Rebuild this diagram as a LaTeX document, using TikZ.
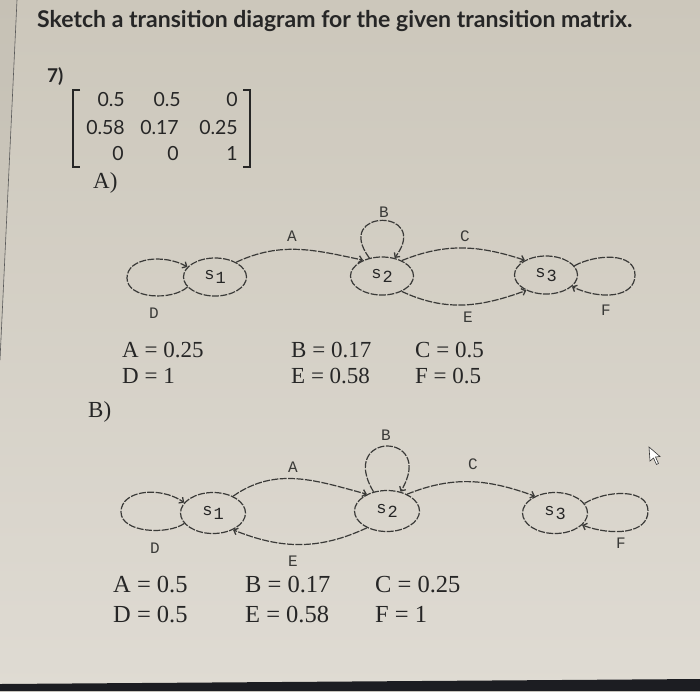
\documentclass[tikz,border=0pt]{standalone}
\usepackage{fontspec}
\usepackage{graphicx}
\setmainfont{Liberation Serif}
\setmonofont{Liberation Mono}
\newfontfamily\latof{Lato}
\usetikzlibrary{shapes.geometric,arrows.meta}
\definecolor{bgtop}{HTML}{CCC7BB}
\definecolor{bgbot}{HTML}{DFDBD3}
\definecolor{lnc}{HTML}{3A3A38}
\definecolor{txc}{HTML}{262626}
\definecolor{barc}{HTML}{1C1D22}
\begin{document}
\begin{tikzpicture}[x=1pt,y=1pt,
  ln/.style={draw=lnc,line width=1.2pt,dash pattern=on 7pt off 1.4pt},
  arr/.style={ln,-{Straight Barb[length=3.5pt,width=7pt,line width=1.3pt]}},
  st/.style={ellipse,ln,minimum width=63pt,minimum height=38pt,inner sep=0pt,
    font=\ttfamily\fontsize{17}{17}\selectfont,text=txc},
  stb/.style={st,minimum width=65pt,minimum height=41pt},
  lb/.style={font=\ttfamily\fontsize{16}{16}\selectfont,text=lnc,inner sep=0pt},
  eqa/.style={anchor=base west,inner sep=0pt,font=\fontsize{23}{23}\selectfont,text=txc},
  eqb/.style={eqa,font=\fontsize{24.5}{24.5}\selectfont},
  mx/.style={anchor=base east,inner sep=0pt,font=\latof\fontsize{19.5}{19.5}\selectfont,text=txc},
  brk/.style={draw=txc,line width=1.4pt},
  part/.style={anchor=base west,inner sep=0pt,font=\fontsize{23}{23}\selectfont,text=txc}]
\useasboundingbox (0,0) rectangle (700,-691);
% background
\shade[top color=bgtop,bottom color=bgbot] (0,0) rectangle (700,-691);
\fill[bgtop!92!black,opacity=0.35] (0,0) -- (17,0) -- (0,-360) -- cycle;
\draw[gray!70!black,line width=0.6pt] (17,0) -- (0,-360);
\fill[barc] (0,-684) -- (700,-679) -- (700,-691) -- (0,-691) -- cycle;

% title
\node[anchor=base west,inner sep=0pt,text=txc] (title) at (37,-27)
  {\resizebox{595pt}{!}{\latof\bfseries Sketch a transition diagram for the given transition matrix.}};
\node[anchor=base west,inner sep=0pt,text=txc,font=\latof\bfseries\fontsize{19}{19}\selectfont] (num) at (47,-82) {7)};

% matrix
\draw[brk] (80,-90) -- (73,-90) -- (73,-167) -- (80,-167);
\draw[brk] (243,-90) -- (250,-90) -- (250,-167) -- (243,-167);
\node[mx] (m11) at (125,-106) {0.5};
\node[mx] (m12) at (181,-106) {0.5};
\node[mx] (m13) at (238,-106) {0};
\node[mx] (m21) at (125,-134) {0.58};
\node[mx] (m22) at (179,-134) {0.17};
\node[mx] (m23) at (238,-134) {0.25};
\node[mx] (m31) at (124,-160) {0};
\node[mx] (m32) at (179,-160) {0};
\node[mx] (m33) at (238,-160) {1};
\node[part] (pa) at (93,-188) {A)};

% ---------- diagram A ----------
\node[st] (a1) at (215,-277) {s\kern1pt\raisebox{-3.5pt}{1}};
\node[st] (a2) at (382,-276) {s\kern1pt\raisebox{-3.5pt}{2}};
\node[st] (a3) at (546,-275) {s\kern1pt\raisebox{-3.5pt}{3}};
\coordinate (aDw) at (127,-278);
\coordinate (aFe) at (635,-275);
\draw[arr] (a1.200) .. controls (172,-301) and (127,-299) .. (aDw)
           .. controls (127,-257) and (165,-254) .. (a1.160);
\draw[arr] (a1.35) to[out=25,in=168] (a2.140);
\draw[arr] (a2.125) .. controls (332,-208) and (432,-208) .. (a2.55);
\draw[arr] (a2.38) to[out=22,in=162] (a3.145);
\draw[arr] (a2.-38) to[out=-25,in=-160] (a3.-142);
\draw[arr] (a3.18) .. controls (596,-254) and (635,-252) .. (aFe)
           .. controls (635,-298) and (600,-300) .. (a3.-24);
\node[lb] (lA) at (292,-236) {A};
\node[lb] (lB) at (384,-212) {B};
\node[lb] (lC) at (465,-236) {C};
\node[lb] (lD) at (154,-313) {D};
\node[lb] (lE) at (468,-317) {E};
\node[lb] (lF) at (606,-310) {F};
\node[eqa] (qA) at (122,-357) {A = 0.25};
\node[eqa] (qD) at (122,-383) {D = 1};
\node[eqa] (qB) at (291,-357) {B = 0.17};
\node[eqa] (qE) at (291,-383) {E = 0.58};
\node[eqa] (qC) at (415,-357) {C = 0.5};
\node[eqa] (qF) at (415,-383) {F = 0.5};
\node[part] (pb) at (88,-417) {B)};

% ---------- diagram B ----------
\node[stb] (b1) at (213,-513) {s\kern1pt\raisebox{-3.5pt}{1}};
\node[stb] (b2) at (387,-511) {s\kern1pt\raisebox{-3.5pt}{2}};
\node[stb] (b3) at (555,-513) {s\kern1pt\raisebox{-3.5pt}{3}};
\coordinate (bDw) at (121,-512);
\coordinate (bFe) at (648,-511);
\draw[arr] (b1.200) .. controls (168,-535) and (121,-533) .. (bDw)
           .. controls (121,-490) and (160,-486) .. (b1.160);
\draw[arr] (b1.40) to[out=35,in=165] (b2.140);
\draw[arr] (b2.125) .. controls (337,-431) and (437,-431) .. (b2.55);
\draw[arr] (b2.40) to[out=22,in=160] (b3.140);
\draw[arr] (b2.-140) to[out=-155,in=-22] (b1.-40);
\draw[arr] (b3.18) .. controls (606,-490) and (648,-488) .. (bFe)
           .. controls (648,-534) and (612,-536) .. (b3.-24);
\node[lb] (mA) at (293,-467) {A};
\node[lb] (mB) at (386,-435) {B};
\node[lb] (mC) at (473,-464) {C};
\node[lb] (mD) at (155,-548) {D};
\node[lb] (mE) at (293,-561) {E};
\node[lb] (mF) at (621,-543) {F};
\node[eqb] (rA) at (113,-592) {A = 0.5};
\node[eqb] (rD) at (113,-622) {D = 0.5};
\node[eqb] (rB) at (245,-592) {B = 0.17};
\node[eqb] (rE) at (245,-622) {E = 0.58};
\node[eqb] (rC) at (375,-592) {C = 0.25};
\node[eqb] (rF) at (375,-622) {F = 1};

% mouse cursor
\filldraw[fill=white,draw=black!80,line width=0.6pt]
  (649,-447) -- (650,-461) -- (653.5,-458) -- (656.5,-464.5) -- (658.5,-463.5) -- (655.5,-457) -- (660,-456.5) -- cycle;
\end{tikzpicture}
\end{document}
